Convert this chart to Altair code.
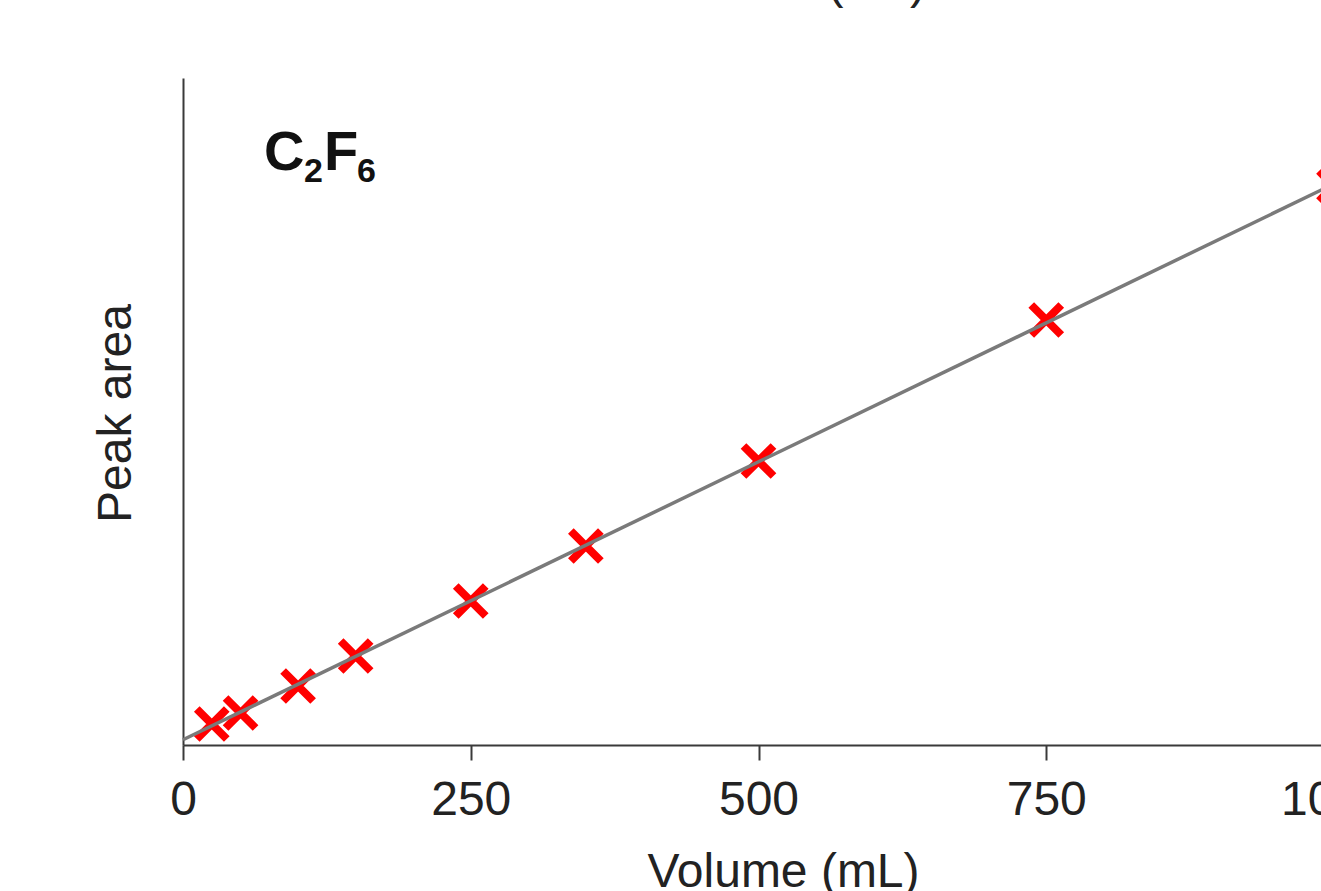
import altair as alt
import pandas as pd

# Data (peak area in arbitrary units)
volume_ml = [25, 50, 100, 150, 250, 350, 500, 750, 1000]
peak_area = [21, 32, 59, 89, 144, 199, 284, 425, 559]
x_ticks = [0, 250, 500, 750, 1000]

df = pd.DataFrame({"volume": volume_ml, "area": peak_area})

FONT = "Liberation Sans"
AXIS_COLOR = "#3a3a3a"

x_enc = alt.X(
    "volume:Q",
    scale=alt.Scale(domain=[0, 1000], range=[0, 1151], nice=False, zero=True),
    axis=alt.Axis(
        values=x_ticks,
        title="Volume (mL)",
        titleFont=FONT,
        titleFontSize=48,
        titleFontWeight="normal",
        titleColor="#222222",
        titleX=600,
        titleY=141,
        titleAlign="center",
        titleBaseline="alphabetic",
        labelFont=FONT,
        labelFontSize=48,
        labelColor="#222222",
        labelPadding=16,
        labelFlush=False,
        labelOverlap=False,
        tickSize=15,
        tickWidth=2,
        tickColor=AXIS_COLOR,
        domainColor=AXIS_COLOR,
        domainWidth=2,
        grid=False,
        format="d",
    ),
)
y_enc = alt.Y(
    "area:Q",
    scale=alt.Scale(domain=[0, 667], nice=False),
    axis=alt.Axis(
        title="Peak area",
        titleFont=FONT,
        titleFontSize=48,
        titleFontWeight="normal",
        titleColor="#222222",
        titleX=-53,
        titleY=335,
        titleAngle=270,
        titleAlign="center",
        titleBaseline="alphabetic",
        labels=False,
        ticks=False,
        domainColor=AXIS_COLOR,
        domainWidth=2,
        grid=False,
    ),
)

base = alt.Chart(df)

points = base.mark_point(
    shape="M-1,-1L1,1M-1,1L1,-1",
    filled=False,
    stroke="#ff0000",
    strokeWidth=8,
    size=900,
    opacity=1,
).encode(x=x_enc, y=y_enc)

fit = base.transform_regression(
    "volume", "area", extent=[0, 1000]
).mark_line(color="#7a7a7a", strokeWidth=3.5, opacity=1).encode(
    x="volume:Q", y="area:Q"
)

one = alt.Data(values=[{"a": 1}])

def txt(t, x, y, size, weight="bold", font=FONT, align="left", baseline="alphabetic", color="#111111"):
    return alt.Chart(one).mark_text(
        text=t, font=font, fontSize=size, fontWeight=weight,
        align=align, baseline=baseline, color=color,
    ).encode(x=alt.value(x), y=alt.value(y))

label_c = txt("C", 81, 92, 56)
label_2 = txt("2", 121, 104, 34)
label_f = txt("F", 141, 92, 56)
label_6 = txt("6", 174, 104, 34)

# Title of the panel above, cut off by the picture's top edge
top_title = txt("Volume (mL)", 607, -80, 48, weight="normal", align="center", color="#222222")

chart = alt.layer(
    points, fit, label_c, label_2, label_f, label_6, top_title
).properties(
    width=1138,
    height=667,
    autosize=alt.AutoSizeParams(type="none"),
    padding={"left": 183, "top": 78, "right": 0, "bottom": 146},
    background="white",
).configure_view(stroke=None)

chart.save("out.html", embed_options={"renderer": "svg", "actions": False})
